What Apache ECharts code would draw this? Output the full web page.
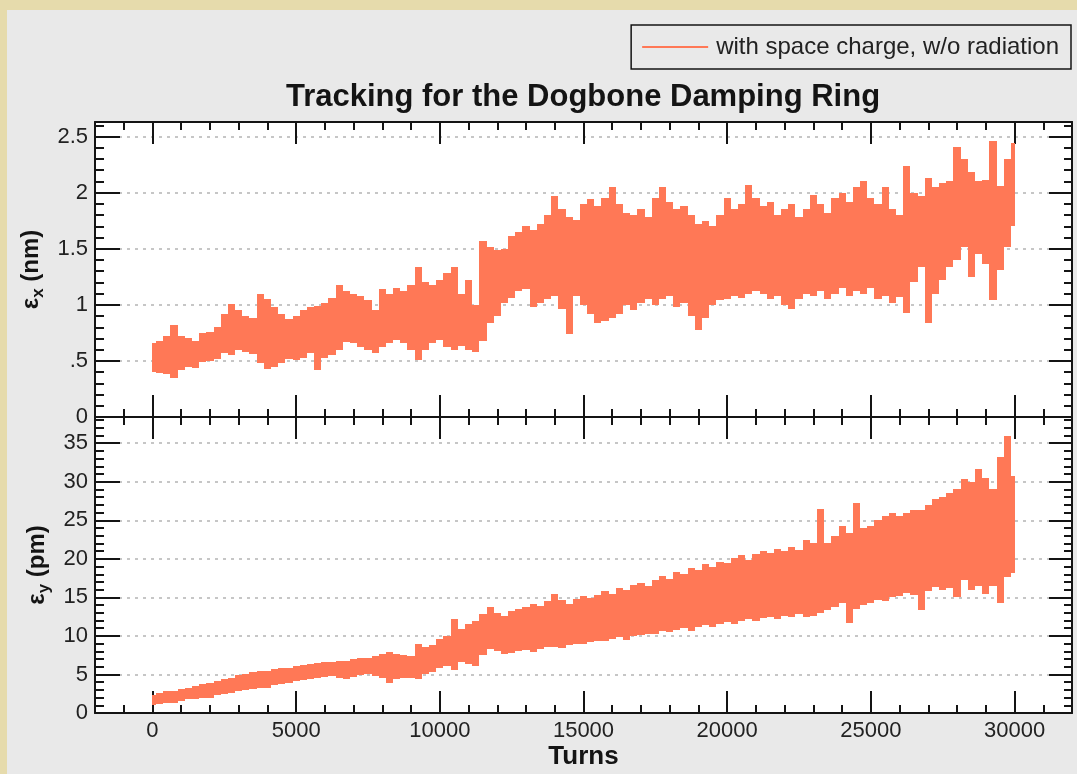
<!DOCTYPE html>
<html>
<head>
<meta charset="utf-8">
<script src="https://cdn.jsdelivr.net/npm/echarts@6.0.0/dist/echarts.min.js"></script>
<style>
html,body{margin:0;padding:0;background:#e6dbac;width:1077px;height:774px;overflow:hidden;}
#panel{position:absolute;left:7px;top:10px;right:0;bottom:0;background:#e9e9e9;}
#chart{position:absolute;left:0;top:0;width:1077px;height:774px;}
</style>
</head>
<body>
<div id="panel"></div>
<div id="chart"></div>
<script>
// ---- data ----
const turns = [0,250,500,750,1000,1250,1500,1750,2000,2250,2500,2750,3000,3250,3500,3750,4000,4250,4500,4750,
  5000,5250,5500,5750,6000,6250,6500,6750,7000,7250,7500,7750,8000,8250,8500,8750,9000,9250,9500,9750,
  10000,10250,10500,10750,11000,11250,11500,11750,12000,12250,12500,12750,13000,13250,13500,13750,14000,14250,14500,14750,
  15000,15250,15500,15750,16000,16250,16500,16750,17000,17250,17500,17750,18000,18250,18500,18750,19000,19250,19500,19750,
  20000,20250,20500,20750,21000,21250,21500,21750,22000,22250,22500,22750,23000,23250,23500,23750,24000,24250,24500,24750,
  25000,25250,25500,25750,26000,26250,26500,26750,27000,27250,27500,27750,28000,28250,28500,28750,29000,29250,29500,29750,30000];

// horizontal emittance (nm): upper / lower envelope of the fast oscillation
const exHigh = [0.66,0.68,0.72,0.82,0.72,0.70,0.68,0.75,0.76,0.80,
  0.92,1.01,0.95,0.90,0.88,1.10,1.05,0.98,0.92,0.87,
  0.90,0.95,0.98,0.99,1.02,1.06,1.18,1.12,1.10,1.08,
  1.04,0.95,1.14,1.10,1.15,1.12,1.18,1.34,1.20,1.18,
  1.22,1.28,1.34,1.10,1.22,1.00,1.57,1.52,1.49,1.50,
  1.61,1.65,1.70,1.67,1.72,1.80,1.97,1.85,1.78,1.76,
  1.90,1.94,1.88,1.95,2.05,1.90,1.82,1.80,1.85,1.78,
  1.95,2.05,1.92,1.85,1.88,1.80,1.72,1.75,1.70,1.80,
  1.95,1.85,1.90,2.07,1.95,1.88,1.92,1.80,1.85,1.90,
  1.78,1.85,1.98,1.90,1.82,1.95,2.00,1.92,2.05,2.10,
  1.95,1.90,2.05,1.85,1.80,2.24,2.00,1.97,2.13,2.05,
  2.09,2.10,2.41,2.30,2.18,2.10,2.11,2.46,2.06,2.30,2.44];
const exLow = [0.40,0.39,0.38,0.35,0.42,0.45,0.44,0.49,0.50,0.52,
  0.57,0.55,0.60,0.58,0.56,0.48,0.43,0.45,0.48,0.52,
  0.51,0.53,0.57,0.42,0.53,0.55,0.60,0.67,0.66,0.62,
  0.60,0.57,0.62,0.66,0.69,0.66,0.60,0.51,0.60,0.66,
  0.69,0.62,0.60,0.63,0.60,0.58,0.68,0.84,0.90,1.02,
  1.06,1.12,1.14,0.98,1.02,1.05,1.08,0.96,0.74,1.08,
  1.00,0.92,0.84,0.86,0.88,0.92,1.00,0.95,1.02,1.05,
  1.00,1.05,1.08,0.98,1.02,0.90,0.78,0.88,1.00,1.04,
  1.05,1.08,1.06,1.10,1.12,1.10,1.05,1.08,1.00,0.96,
  1.05,1.10,1.08,1.12,1.05,1.10,1.15,1.08,1.12,1.10,
  1.15,1.05,1.08,1.02,1.07,0.93,1.20,1.34,0.84,1.10,
  1.22,1.34,1.40,1.52,1.25,1.45,1.36,1.04,1.31,1.52,1.70];

// vertical emittance (pm)
const eyHigh = [2.4,2.6,2.8,2.9,3.1,3.3,3.5,3.7,3.95,4.2,
  4.4,4.6,4.9,5.1,5.3,5.4,5.5,5.7,5.8,5.9,
  6.1,6.2,6.3,6.5,6.6,6.6,6.7,6.8,7.0,7.1,
  7.2,7.4,7.6,7.85,7.6,7.5,7.4,8.9,8.6,8.8,
  9.6,10.0,12.2,10.9,11.5,12.0,12.8,13.7,13.0,12.6,
  13.2,13.5,13.8,14.2,13.9,14.5,15.4,14.6,14.2,14.8,
  15.2,14.9,15.3,15.8,15.5,16.2,16.0,16.6,16.9,16.5,
  17.2,17.8,17.4,18.3,18.0,18.8,18.5,19.3,18.9,19.6,
  19.4,20.1,20.5,19.8,20.6,21.0,20.7,21.3,21.0,21.6,
  21.2,22.5,22.1,26.5,22.1,23.0,24.3,23.4,27.3,24.0,
  24.3,25.1,25.5,26.0,25.6,26.0,26.3,26.4,27.0,27.7,
  28.0,28.6,29.0,30.3,30.0,31.6,30.5,29.0,33.2,36.0,30.8];
const eyLow = [1.1,1.2,1.3,1.3,1.6,1.8,1.8,1.9,2.0,2.3,
  2.5,2.65,2.8,3.0,3.1,3.2,3.3,3.6,3.8,3.95,
  4.1,4.3,4.4,4.5,4.7,4.8,4.6,4.4,4.7,4.9,
  5.0,4.8,4.5,3.95,4.4,4.5,4.6,4.4,5.0,5.3,
  5.8,6.1,5.6,6.6,6.3,6.1,7.5,8.3,8.0,7.6,
  7.8,8.0,8.2,7.9,8.3,8.5,8.6,8.4,8.8,9.0,
  8.9,9.2,9.4,9.3,9.6,9.8,9.5,10.0,10.1,10.3,
  10.2,10.6,10.5,10.8,11.0,10.7,11.2,11.4,11.1,11.6,
  11.8,11.5,12.0,12.2,11.9,12.3,12.5,12.2,12.6,12.4,
  12.8,12.5,12.6,13.0,13.4,13.8,14.3,11.7,13.5,14.0,
  14.3,14.7,14.5,15.0,15.2,15.6,15.3,13.4,15.8,16.4,
  16.0,16.2,15.0,17.2,16.0,16.5,15.5,16.5,14.3,17.6,18.2];

// ticks and labels
const xMajorTicks = [0,5000,10000,15000,20000,25000,30000];
const xMinorTicks = [-2000,-1000,1000,2000,3000,4000,6000,7000,8000,9000,11000,12000,13000,14000,16000,17000,18000,19000,21000,22000,23000,24000,26000,27000,28000,29000,31000];
const exMajorTicks = [0,0.5,1,1.5,2,2.5];
const exTickLabels = ['0','.5','1','1.5','2','2.5'];
const eyMajorTicks = [0,5,10,15,20,25,30,35];
const eyTickLabels = ['0','5','10','15','20','25','30','35'];
const seriesName = 'with space charge, w/o radiation';
const titleText = 'Tracking for the Dogbone Damping Ring';
const xName = 'Turns';

// minor tick positions between the major ones
function minorBetween(majors, sub, max) {
  const out = [];
  const step = (majors[1] - majors[0]) / sub;
  for (let v = majors[0]; v <= max + 1e-9; v += step) {
    const r = Math.round(v * 1000) / 1000;
    if (!majors.some(m => Math.abs(m - r) < 1e-6)) out.push(r);
  }
  return out;
}
const exMinorTicks = minorBetween(exMajorTicks, 5, 2.63);
const eyMinorTicks = minorBetween(eyMajorTicks, 5, 38.4);

const FONT = '"Liberation Sans", Arial, sans-serif';
const INK = '#141414';
const COLOR = '#ff7856';

function xAxesFor(gi, withLabels) {
  const base = {type: 'value', gridIndex: gi, min: -2000, max: 32000, splitLine: {show: false}};
  const mk = (pos, ticks, len, line, labels) => Object.assign({}, base, {
    position: pos,
    axisLine: {show: line, onZero: false, lineStyle: {color: INK, width: 2}},
    axisTick: {show: true, inside: true, length: len, customValues: ticks, lineStyle: {color: INK, width: 2}},
    axisLabel: labels ? {show: true, customValues: xMajorTicks, margin: 7, color: '#222',
      fontFamily: FONT, fontSize: 22, formatter: v => String(v)} : {show: false},
    name: labels ? xName : '',
    nameLocation: 'middle', nameGap: 31,
    nameTextStyle: {fontFamily: FONT, fontWeight: 'bold', fontSize: 26, color: INK}
  });
  return [
    mk('bottom', xMajorTicks, 22, true, withLabels),
    mk('bottom', xMinorTicks, 8, false, false),
    mk('top', xMajorTicks, 22, true, false),
    mk('top', xMinorTicks, 8, false, false)
  ];
}

function yAxesFor(gi, max, majors, minors, labels, nameRich) {
  const base = {type: 'value', gridIndex: gi, min: 0, max: max};
  const mk = (pos, ticks, len, line, withLabels, split) => Object.assign({}, base, {
    position: pos,
    axisLine: {show: line, onZero: false, lineStyle: {color: INK, width: 2}},
    axisTick: {show: true, inside: true, length: len, customValues: ticks, lineStyle: {color: INK, width: 2}},
    axisLabel: withLabels ? {show: true, customValues: majors, margin: 7, color: '#222',
      fontFamily: FONT, fontSize: 22,
      formatter: v => { const k = majors.findIndex(m => Math.abs(m - v) < 1e-9); return k >= 0 ? labels[k] : ''; }
    } : {show: false},
    splitLine: split ? {show: true, lineStyle: {color: '#b4b4b4', width: 1.5, type: [3, 5]}} : {show: false},
    name: withLabels ? nameRich : '',
    nameLocation: 'middle', nameRotate: 90, nameGap: 41,
    nameTextStyle: {
      fontFamily: FONT, fontWeight: 'bold', fontSize: 24, color: INK,
      rich: {
        e: {fontFamily: FONT, fontWeight: 'bold', fontSize: 24, color: INK, lineHeight: 30},
        s: {fontFamily: FONT, fontWeight: 'bold', fontSize: 17, color: INK, lineHeight: 17, verticalAlign: 'bottom'}
      }
    }
  });
  return [
    mk('left', majors, 25, true, true, true),
    mk('left', minors, 9, false, false, false),
    mk('right', majors, 23, true, false, false),
    mk('right', minors, 8, false, false, false)
  ];
}

// one pixel-aligned column per sample, from the lower to the upper envelope
function bandItem(params, api) {
  const t = api.value(0), lo = api.value(1), hi = api.value(2);
  const half = (turns[1] - turns[0]) / 2;
  const a = api.coord([Math.max(turns[0], t - half), hi]);
  const b = api.coord([Math.min(turns[turns.length - 1], t + half), lo]);
  const x0 = Math.round(a[0]), x1 = Math.round(b[0]);
  return {type: 'rect', shape: {x: x0, y: Math.round(a[1]), width: Math.max(1, x1 - x0), height: Math.round(b[1]) - Math.round(a[1])},
    style: {fill: api.visual('color'), stroke: null}};
}

const chart = echarts.init(document.getElementById('chart'), null, {renderer: 'canvas'});
chart.setOption({
  animation: false,
  backgroundColor: 'transparent',
  textStyle: {fontFamily: FONT},
  graphic: [{
    type: 'text', x: 583, y: 97, z: 10,
    style: {text: titleText, font: 'bold 31px ' + FONT, fill: INK, textAlign: 'center', textVerticalAlign: 'middle'}
  }],
  legend: {
    data: [seriesName], right: 6, top: 25, icon: 'rect', itemWidth: 66, itemHeight: 2,
    borderColor: INK, borderWidth: 1.5, padding: [10, 12, 10, 11], backgroundColor: 'transparent',
    textStyle: {fontFamily: FONT, fontSize: 24, color: '#222', padding: [0, 0, 0, 3]}
  },
  grid: [
    {left: 95, right: 5, top: 122, height: 295, show: true, backgroundColor: '#ffffff', borderWidth: 0},
    {left: 95, right: 5, top: 417, height: 296, show: true, backgroundColor: '#ffffff', borderWidth: 0}
  ],
  xAxis: [].concat(xAxesFor(0, false), xAxesFor(1, true)),
  yAxis: [].concat(
    yAxesFor(0, 2.63, exMajorTicks, exMinorTicks, exTickLabels, '{e|ε}{s|x}{e| (nm)}'),
    yAxesFor(1, 38.4, eyMajorTicks, eyMinorTicks, eyTickLabels, '{e|ε}{s|y}{e| (pm)}')
  ),
  series: [
    {name: seriesName, type: 'custom', xAxisIndex: 0, yAxisIndex: 0, color: COLOR, clip: true,
      encode: {x: 0, y: [1, 2]}, renderItem: bandItem,
      data: turns.map((t, i) => [t, exLow[i], exHigh[i]])},
    {name: seriesName, type: 'custom', xAxisIndex: 4, yAxisIndex: 4, color: COLOR, clip: true,
      encode: {x: 0, y: [1, 2]}, renderItem: bandItem,
      data: turns.map((t, i) => [t, eyLow[i], eyHigh[i]])}
  ]
});
</script>
</body>
</html>
